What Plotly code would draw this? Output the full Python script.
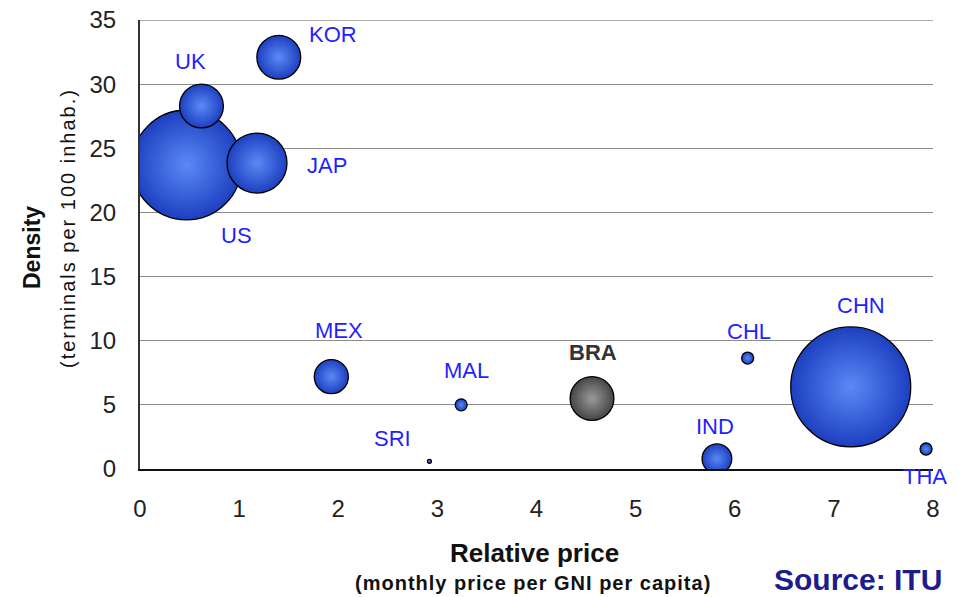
import plotly.graph_objects as go

# Country data: relative price (monthly price / GNI per capita), density, market size
countries = ["US", "UK", "JAP", "KOR", "MEX", "MAL", "SRI", "BRA", "IND", "CHL", "CHN", "THA"]
relative_price = [0.47, 0.62, 1.18, 1.40, 1.93, 3.24, 2.92, 4.56, 5.82, 6.13, 7.17, 7.93]
density = [23.7, 28.3, 23.85, 32.1, 7.2, 5.0, 0.6, 5.5, 0.8, 8.65, 6.4, 1.56]
market_size = [302, 48, 90, 48, 29, 3.6, 0.4, 48, 22, 3.6, 360, 3.6]

x_ticks = [0, 1, 2, 3, 4, 5, 6, 7, 8]
y_ticks = [0, 5, 10, 15, 20, 25, 30, 35]

# label placement relative to each bubble (pixels)
label_offsets = {
    "US": (50, -71), "UK": (-11, 44), "JAP": (70, -2), "KOR": (54, 23),
    "MEX": (8, 46), "MAL": (5, 34), "SRI": (-37, 23), "BRA": (1, 46),
    "IND": (-2, 32), "CHL": (1, 27), "CHN": (10, 81), "THA": (-1, -28),
}

FONT = "Liberation Sans, Arial, sans-serif"
GRID = "#8c8c8c"
BLUE_EDGE, BLUE_CENTER = "#1d3fc0", "#5a8af5"
GREY_EDGE, GREY_CENTER = "#454545", "#9a9a9a"

edge_colors = [GREY_EDGE if c == "BRA" else BLUE_EDGE for c in countries]
center_colors = [GREY_CENTER if c == "BRA" else BLUE_CENTER for c in countries]

fig = go.Figure()
fig.add_trace(go.Scatter(
    x=relative_price, y=density, mode="markers", text=countries,
    marker=dict(
        size=market_size, sizemode="area", sizeref=0.05, sizemin=1,
        color=edge_colors,
        gradient=dict(type="radial", color=center_colors),
        line=dict(color="#000000", width=1.3),
        opacity=1,
    ),
    hoverinfo="text",
    cliponaxis=True,
))

for c, xv, yv in zip(countries, relative_price, density):
    dx, dy = label_offsets[c]
    bold = c == "BRA"
    fig.add_annotation(
        x=xv, y=yv, xref="x", yref="y", text=f"<b>{c}</b>" if bold else c,
        showarrow=False, xshift=dx, yshift=dy, xanchor="center", yanchor="middle",
        font=dict(family=FONT, size=22, color="#333333" if bold else "#1f1fff"),
    )

# top gridline along the upper edge of the plot area
fig.add_shape(type="line", xref="paper", yref="y", x0=0, x1=1,
              y0=y_ticks[-1], y1=y_ticks[-1], line=dict(color=GRID, width=1.5),
              layer="below")

# plot area in pixels, used to place the titles and source note
L, R, T, B, W, H = 140, 26, 20, 128, 959, 597
pw, ph = W - L - R, H - T - B


def px_to_paper(px, py):
    return (px - L) / pw, (H - B - py) / ph


def add_text(px, py, text, size, color="#111111", angle=0):
    xp, yp = px_to_paper(px, py)
    fig.add_annotation(x=xp, y=yp, xref="paper", yref="paper", text=text,
                       textangle=angle, showarrow=False, xanchor="center", yanchor="middle",
                       font=dict(family=FONT, size=size, color=color))


add_text(32, 247, "<b>Density</b>", 23, angle=-90)
add_text(68, 228, '<span style="letter-spacing:2px">(terminals per 100 inhab.)</span>', 20, angle=-90)
add_text(534, 553, "<b>Relative price</b>", 26)
add_text(533, 583, '<b><span style="letter-spacing:1px">(monthly price per GNI per capita)</span></b>', 20)
add_text(858, 579, "<b>Source: ITU</b>", 30, color="#1c1c8c")

fig.update_layout(
    width=W, height=H,
    margin=dict(l=L, r=R, t=T, b=B),
    paper_bgcolor="white", plot_bgcolor="white",
    showlegend=False,
    font=dict(family=FONT, size=24, color="#222222"),
    xaxis=dict(range=[0, 8], tickvals=x_ticks, showgrid=False, zeroline=False,
               showline=True, linecolor="#111111", linewidth=2, ticks="",
               ticklabelstandoff=17, automargin=False, fixedrange=True),
    yaxis=dict(range=[0, 35], tickvals=y_ticks, showgrid=True, gridcolor=GRID,
               gridwidth=1, zeroline=False, showline=True, linecolor="#333333",
               linewidth=2, ticks="", ticklabelstandoff=17, automargin=False,
               fixedrange=True),
)

fig.write_html("out.html")
